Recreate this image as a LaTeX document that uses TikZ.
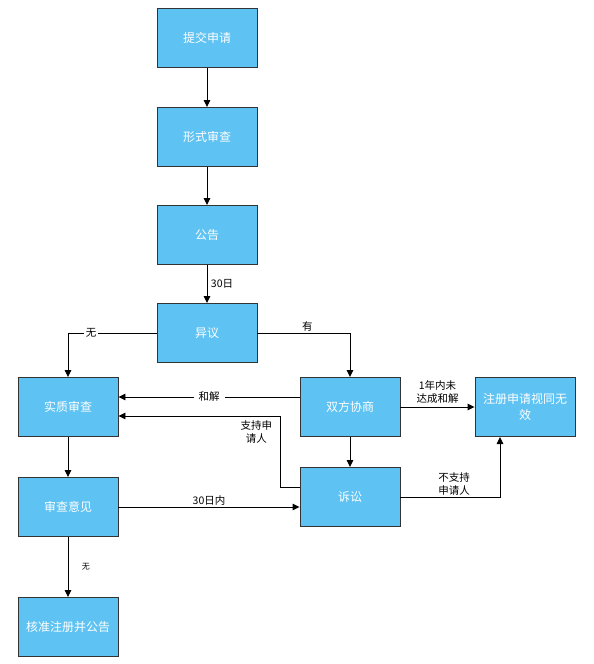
\documentclass[tikz,border=0pt]{standalone}
\usepackage{fontspec}
\newfontfamily\cjk{Noto Sans CJK SC}
\usetikzlibrary{arrows.meta}
\definecolor{boxblue}{HTML}{5EC2F3}
\begin{document}
\begin{tikzpicture}[x=1pt,y=-1pt,line width=0.9pt,
		>={Triangle[length=7pt,width=6.5pt]},
		box/.style={draw=black!80,fill=boxblue,minimum width=100pt,minimum height=59pt,
			inner sep=0pt,align=center,text=white,font=\cjk\fontsize{12}{16}\selectfont},
		lbl/.style={inner sep=1.5pt,align=center,font=\cjk\fontsize{10.5}{12.5}\selectfont}]
			\useasboundingbox (0,0) rectangle (594,664);
			\node[box] (tj) at (207,38) {提交申请};
			\node[box] (xs) at (207,137) {形式审查};
			\node[box] (gg) at (207,235) {公告};
			\node[box] (yy) at (207,333) {异议};
			\node[box] (sz) at (68,407) {实质审查};
			\node[box] (sy) at (68,507) {审查意见};
			\node[box] (hz) at (68,627) {核准注册并公告};
			\node[box] (xf) at (350,407) {双方协商};
			\node[box] (ss) at (350,497) {诉讼};
			\node[box] (wx) at (525,407) {注册申请视同无\\效};
			\coordinate (zc) at (280,416);
			\coordinate (wc) at (500,437);
			\draw[->] (tj) -- (xs);
			\draw[->] (xs) -- (gg);
			\draw[->] (gg) to node[lbl,right=2pt]{30日}(yy);
			\draw[->] (yy.west) -| node[lbl,fill=white,pos=0.37]{无}(sz.north);
			\draw[->] (yy.east) -| node[lbl,above,pos=0.27]{有}(xf.north);
			\draw[->] ([yshift=10pt]xf.west) to node[lbl,fill=white,inner xsep=5pt]{和解}([yshift=10pt]sz.east);
			\draw[->] ([yshift=10pt]ss.west) -| (zc) node[lbl,anchor=north east,xshift=-6pt,yshift=-3pt]{支持申\\请人} -- (zc -| sz.east);
			\draw[->] (sz) -- (sy);
			\draw[->] (sy) to node[lbl,above]{30日内}(sy -| ss.west);
			\draw[->] (sy) to node[lbl,right=12pt,font=\cjk\fontsize{8}{10}\selectfont]{无}(hz);
			\draw[->] (xf) -- (ss);
			\draw[->] (xf) to node[lbl,above=2pt]{1年内未\\达成和解}(wx);
			\draw[->] (ss.east) -| node[lbl,above,pos=0.27]{不支持\\申请人}(wc);
		\end{tikzpicture}
\end{document}
